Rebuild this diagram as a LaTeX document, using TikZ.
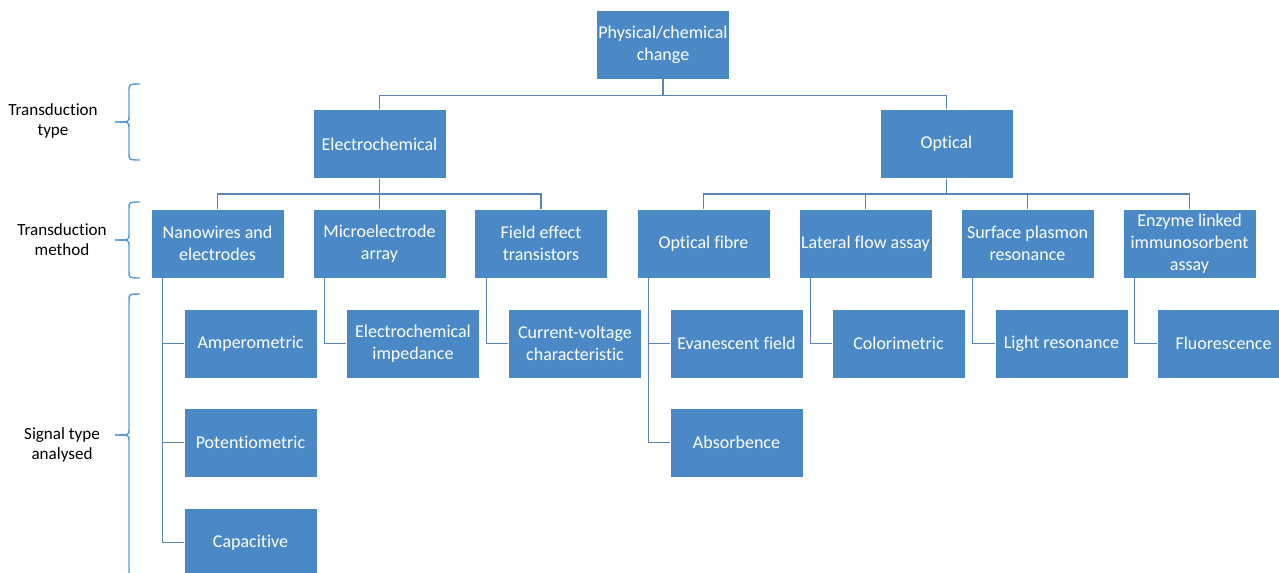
\documentclass[tikz,border=0pt]{standalone}
\usepackage{fontspec}
\setmainfont{Carlito}[Ligatures=CommonOff]
\definecolor{boxblue}{HTML}{4A89C6}
\definecolor{linkblue}{HTML}{5A84B4}
\definecolor{braceblue}{HTML}{5B9BD5}
\tikzset{
  box/.style={fill=boxblue,draw=white,line width=0.4pt,text=white,
    minimum width=99.75pt,minimum height=51.75pt,inner sep=1pt,
    align=center,font=\fontsize{13.5}{16.3}\selectfont},
  link/.style={draw=linkblue,line width=1.1pt},
  sidetext/.style={align=center,font=\fontsize{12.8}{15}\selectfont},
  curly/.style={draw=braceblue,line width=1.1pt}
}
\begin{document}
\begin{tikzpicture}[x=0.75pt,y=-0.75pt]
\useasboundingbox (0,0) rectangle (1279,572);
% top levels
\node[box] (top) at (663,44.5) {Physical/chemical\\change};
\node[box] (elec) at (379.5,144) {Electrochemical};
\node[box] (opt) at (946.5,144) {Optical};
% transduction methods
\foreach \n/\x/\t in {nano/217.5/Nanowires and\\electrodes,
    micro/379.5/Microelectrode\\array,
    fet/541/Field effect\\transistors,
    fibre/703.5/Optical fibre,
    flow/865.5/Lateral flow assay,
    spr/1027.5/Surface plasmon\\resonance,
    elisa/1189.5/Enzyme linked\\immunosorbent\\assay}
  \node[box] (\n) at (\x,243.5) {\t};
% signals
\foreach \n/\x/\y/\t in {amp/250.5/343.5/Amperometric,
    pot/250.5/442.5/Potentiometric,
    cap/250.5/542.5/Capacitive,
    imp/413/343.5/Electrochemical\\impedance,
    iv/575/343.5/Current-voltage\\characteristic,
    eva/736.5/343.5/Evanescent field,
    abs/736.5/442.5/Absorbence,
    color/898.5/343.5/Colorimetric,
    light/1061.5/343.5/Light resonance,
    fluo/1223.5/343.5/Fluorescence}
  \node[box] (\n) at (\x,\y) {\t};
% connectors
\draw[link] (top.south) -- ++(0,16) coordinate (c0);
\draw[link] (c0) -| (elec.north);
\draw[link] (c0) -| (opt.north);
\draw[link] (elec.south) -- ++(0,15) coordinate (c1);
\foreach \n in {nano,micro,fet}
  \draw[link] (c1) -| (\n.north);
\draw[link] (opt.south) -- ++(0,15) coordinate (c2);
\foreach \n in {fibre,flow,spr,elisa}
  \draw[link] (c2) -| (\n.north);
\foreach \p/\c in {nano/amp,nano/pot,nano/cap,micro/imp,fet/iv,
    fibre/eva,fibre/abs,flow/color,spr/light,elisa/fluo}
  \draw[link] ([xshift=9pt]\p.south west) |- (\c.west);
% side labels and braces
\node[sidetext] (ttype) at (53,121) {Transduction\\type};
\node[sidetext] (tmeth) at (62,240) {Transduction\\method};
\node[sidetext] (sig) at (62,445) {Signal type\\analysed};
\foreach \a/\m/\b in {84/122/160, 202/240/278, 294/435/578}{
  \draw[curly] (140,\a) .. controls (129,\a) .. (129,\a+7) -- (129,\m-5)
    .. controls (129,\m) .. (115,\m);
  \draw[curly] (115,\m) .. controls (129,\m) .. (129,\m+5) -- (129,\b-7)
    .. controls (129,\b) .. (140,\b);
}
\end{tikzpicture}
\end{document}
